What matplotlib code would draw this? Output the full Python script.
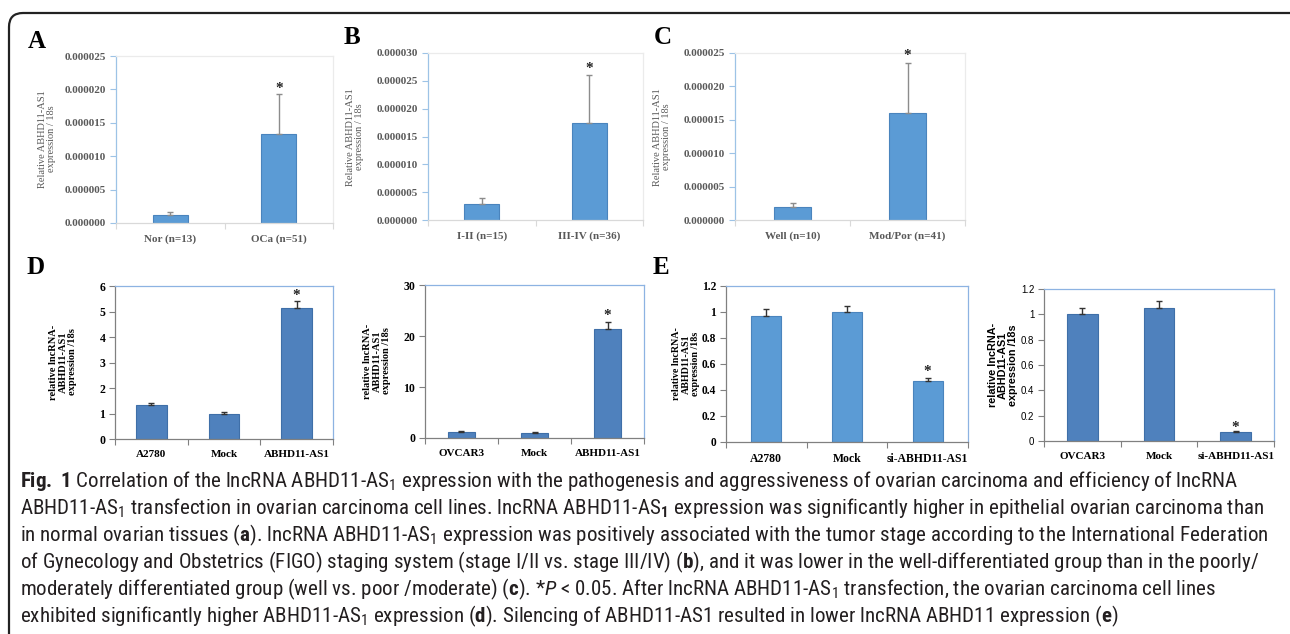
import matplotlib
matplotlib.use("Agg")
import matplotlib.pyplot as plt
import matplotlib.patches as mpatches
from matplotlib import font_manager
import numpy as np

W, H = 1290, 634

# ---- data ----
a_labels = ["Nor (n=13)", "OCa (n=51)"]
a_vals = [1.2e-6, 13.3e-6]
a_err = [0.4e-6, 6.0e-6]

b_labels = ["I-II (n=15)", "III-IV (n=36)"]
b_vals = [2.9e-6, 17.5e-6]
b_err = [1.1e-6, 8.6e-6]

c_labels = ["Well (n=10)", "Mod/Por (n=41)"]
c_vals = [2.0e-6, 16.0e-6]
c_err = [0.6e-6, 7.5e-6]

d1_labels = ["A2780", "Mock", "ABHD11-AS1"]
d1_vals = [1.35, 0.97, 5.15]
d1_err = [0.08, 0.08, 0.27]

d2_labels = ["OVCAR3", "Mock", "ABHD11-AS1"]
d2_vals = [1.2, 1.0, 21.4]
d2_err = [0.25, 0.12, 1.3]

e1_labels = ["A2780", "Mock", "si-ABHD11-AS1"]
e1_vals = [0.972, 1.0, 0.473]
e1_err = [0.05, 0.05, 0.023]

e2_labels = ["OVCAR3", "Mock", "si-ABHD11-AS1"]
e2_vals = [1.0, 1.047, 0.071]
e2_err = [0.053, 0.058, 0.01]

caption = [
    r"$\mathbf{Fig.\ 1}$ Correlation of the lncRNA ABHD11-AS$_1$ expression with the pathogenesis and aggressiveness of ovarian carcinoma and efficiency of lncRNA",
    r"ABHD11-AS$_1$ transfection in ovarian carcinoma cell lines. lncRNA ABHD11-AS$_{\mathbf{1}}$ expression was significantly higher in epithelial ovarian carcinoma than",
    r"in normal ovarian tissues ($\mathbf{a}$). lncRNA ABHD11-AS$_1$ expression was positively associated with the tumor stage according to the International Federation",
    r"of Gynecology and Obstetrics (FIGO) staging system (stage I/II vs. stage III/IV) ($\mathbf{b}$), and it was lower in the well-differentiated group than in the poorly/",
    r"moderately differentiated group (well vs. poor /moderate) ($\mathbf{c}$). *$\mathit{P}$ < 0.05. After lncRNA ABHD11-AS$_1$ transfection, the ovarian carcinoma cell lines",
    r"exhibited significantly higher ABHD11-AS$_1$ expression ($\mathbf{d}$). Silencing of ABHD11-AS1 resulted in lower lncRNA ABHD11 expression ($\mathbf{e}$)",
]
caption_right = [1262, 1262, 1266, 1262]   # right ends of the four full lines

# pick a narrow face for the caption if one is installed
entries = font_manager.fontManager.ttflist
cond_names = {f.name for f in entries if f.stretch in ("condensed", "semi-condensed")}
cap_font, cap_stretch = "Roboto", "normal"
for cand in ["Liberation Sans Narrow", "Roboto Condensed", "Open Sans Condensed",
             "Noto Sans", "Open Sans", "Roboto", "DejaVu Sans"]:
    if cand in cond_names:
        cap_font = cand
        cap_stretch = "normal" if "Narrow" in cand or "Condensed" in cand else "condensed"
        break
st = "" if cap_stretch == "normal" else ":stretch=" + cap_stretch

SERIF = "Liberation Serif"
SANS = "Liberation Sans"

plt.rcParams["mathtext.fontset"] = "custom"
plt.rcParams["mathtext.rm"] = cap_font + st
plt.rcParams["mathtext.bf"] = cap_font + ":bold" + st
plt.rcParams["mathtext.it"] = cap_font + ":italic" + st
plt.rcParams["mathtext.default"] = "regular"

fig = plt.figure(figsize=(W / 100, H / 100), dpi=100)


def px_axes(x0, y0, x1, y1):
    return fig.add_axes([x0 / W, 1 - y1 / H, (x1 - x0) / W, (y1 - y0) / H])


def bar_panel(ax, labels, vals, errs, ylim, yticks, yfmt, width, color, edge,
              ecolor, spines, tickc, ytick_font, ytick_weight, ytick_size,
              tick_color, xlab_size, star_off=6):
    x = np.arange(len(vals))
    ax.bar(x, vals, width=width, color=color, edgecolor=edge, linewidth=0.8, zorder=2)
    ax.errorbar(x, vals, yerr=[np.zeros(len(vals)), errs], fmt="none", ecolor=ecolor,
                elinewidth=1, capsize=2.5, capthick=1, zorder=3)
    ax.annotate("*", (x[-1], vals[-1] + errs[-1]), xytext=(0, star_off),
                textcoords="offset pixels", ha="center", va="center",
                fontsize=11, fontweight="bold", family=SERIF, color="#222222")
    ax.set_xlim(-0.5, len(vals) - 0.5)
    ax.set_ylim(*ylim)
    ax.set_yticks(yticks, labels=[yfmt(t) for t in yticks])
    ax.set_xticks(x, labels=labels)
    ax.set_xticks(np.arange(len(vals) + 1) - 0.5, minor=True)
    ax.tick_params(axis="x", which="major", length=0, pad=8)
    ax.tick_params(axis="x", which="minor", length=4, color=spines["bottom"], width=0.8)
    ax.tick_params(axis="y", length=4, color=tickc, width=0.8, pad=3)
    for lbl in ax.get_yticklabels():
        lbl.set_family(ytick_font)
        lbl.set_fontweight(ytick_weight)
        lbl.set_fontsize(ytick_size)
        lbl.set_color(tick_color)
    for lbl in ax.get_xticklabels():
        lbl.set_family(SERIF)
        lbl.set_fontweight("bold")
        lbl.set_fontsize(xlab_size)
        lbl.set_color(tick_color)
    for side, c in spines.items():
        ax.spines[side].set_color(c)
        ax.spines[side].set_linewidth(0.9)


def excel_fmt(t):
    return "%.6f" % t


def general_fmt(t):
    return ("%.1f" % t).rstrip("0").rstrip(".") if t != 0 else "0"


soft = {"left": "#9DC3E6", "bottom": "#D9D9D9", "top": "#EBEBEB", "right": "#EBEBEB"}
cell = {"left": "#808080", "bottom": "#808080", "top": "#8DB3E2", "right": "#8DB3E2"}

# ---- top row: A, B, C ----
ax = px_axes(116, 56, 333, 223)
bar_panel(ax, a_labels, a_vals, a_err, (0, 25e-6), np.arange(0, 26e-6, 5e-6), excel_fmt,
          0.32, "#5B9BD5", "#4A84BD", "#8C8C8C", soft, "#9DC3E6", SERIF, "bold", 8, "#595959", 8)
ax = px_axes(428, 53, 643, 220)
bar_panel(ax, b_labels, b_vals, b_err, (0, 30e-6), np.arange(0, 31e-6, 5e-6), excel_fmt,
          0.33, "#5B9BD5", "#4A84BD", "#8C8C8C", soft, "#9DC3E6", SERIF, "bold", 8, "#595959", 8)
ax = px_axes(735, 53, 965, 220)
bar_panel(ax, c_labels, c_vals, c_err, (0, 25e-6), np.arange(0, 26e-6, 5e-6), excel_fmt,
          0.32, "#5B9BD5", "#4A84BD", "#8C8C8C", soft, "#9DC3E6", SERIF, "bold", 8, "#595959", 8,
          star_off=8)

# ---- bottom row: D, E ----
ax = px_axes(115, 286, 333, 439)
bar_panel(ax, d1_labels, d1_vals, d1_err, (0, 6), np.arange(0, 7, 1), general_fmt,
          0.42, "#4F81BD", "#3F6FA8", "#333333", cell, "#808080", SERIF, "bold", 8.5, "black", 8, star_off=5)
ax = px_axes(425, 285, 644, 438)
bar_panel(ax, d2_labels, d2_vals, d2_err, (0, 30), np.arange(0, 31, 10), general_fmt,
          0.38, "#4F81BD", "#3F6FA8", "#333333", cell, "#808080", SERIF, "bold", 8.5, "black", 8, star_off=7)
ax = px_axes(726, 286, 968, 442)
bar_panel(ax, e1_labels, e1_vals, e1_err, (0, 1.2), np.round(np.arange(0, 1.21, 0.2), 1), general_fmt,
          0.37, "#5B9BD5", "#4A84BD", "#333333", cell, "#808080", SERIF, "bold", 8.3, "black", 8.5)
ax = px_axes(1044, 289, 1274, 441)
bar_panel(ax, e2_labels, e2_vals, e2_err, (0, 1.2), np.round(np.arange(0, 1.21, 0.2), 1), general_fmt,
          0.40, "#4F81BD", "#3F6FA8", "#333333", cell, "#808080", SANS, "normal", 7, "black", 8,
          star_off=3)

# ---- y labels ----
rel = "Relative ABHD11-AS1\nexpression / 18s"
for xc, yc in [(47, 139), (355, 137), (662, 137)]:
    fig.text(xc / W, 1 - yc / H, rel, rotation=90, ha="center", va="center",
             family=SERIF, fontsize=7.5, color="#595959", linespacing=1.1)
lnc = "relative lncRNA-\nABHD11-AS1\nexpression /18s"
for xc, yc, fam, fs in [(63, 362, SERIF, 7.5), (377, 361, SERIF, 7.5),
                        (686, 364, SERIF, 7.2), (1003, 365, SANS, 7.8)]:
    fig.text(xc / W, 1 - yc / H, lnc, rotation=90, ha="center", va="center", family=fam,
             fontweight="bold", fontsize=fs, linespacing=1.05)

# ---- panel letters ----
for letter, xc, yc in [("A", 37, 41), ("B", 352, 38), ("C", 663, 38), ("D", 36, 267), ("E", 661, 268)]:
    fig.text(xc / W, 1 - yc / H, letter, ha="center", va="center", family=SERIF,
             fontweight="bold", fontsize=18)

# ---- caption ----
texts = []
for i, line in enumerate(caption):
    texts.append(fig.text(20 / W, 1 - (487 + 27 * i) / H, line, ha="left", va="baseline",
                          family=cap_font, stretch=cap_stretch, fontsize=13, color="#231F20"))
fig.canvas.draw()
r = fig.canvas.get_renderer()
scale = min((right - 20) / t.get_window_extent(r).width for t, right in zip(texts, caption_right))
for t in texts:
    t.set_fontsize(13 * scale)

# ---- outer frame with rounded top corners ----
frame = mpatches.FancyBboxPatch((9, -100), 1300, (H - 13) + 100,
                                boxstyle="round,pad=0,rounding_size=14",
                                fill=False, lw=1.6, ec="#222222", transform=None)
fig.add_artist(frame)

fig.savefig("out.png", dpi=100)
